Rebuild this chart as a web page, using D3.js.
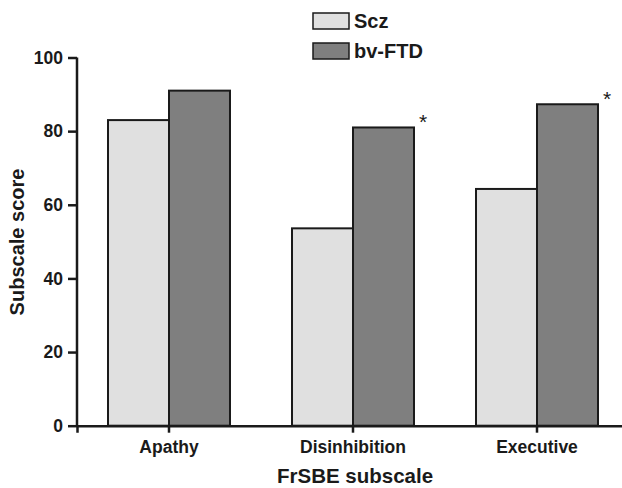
<!DOCTYPE html>
<html>
<head>
<meta charset="utf-8">
<script src="https://cdn.jsdelivr.net/npm/d3@7"></script>
<style>
  body { margin: 0; background: #fff; }
  text { font-family: "Liberation Sans", Arial, sans-serif; font-weight: bold; fill: #1a1a1a; }
</style>
</head>
<body>
<script>
// data
var subscales = ["Apathy", "Disinhibition", "Executive"];
var groups = ["Scz", "bv-FTD"];
var sczScores = [83.0, 53.6, 64.3];
var ftdScores = [91.0, 81.0, 87.3];
var significant = [false, true, true];
var yTicks = [0, 20, 40, 60, 80, 100];

var width = 622,
    height = 488;

var svg = d3.select("body").append("svg")
    .attr("width", width)
    .attr("height", height);

// scales
var x = d3.scaleBand()
    .domain(subscales)
    .range([77, 629])
    .paddingInner(0.337)
    .paddingOuter(0.1685);

var xGroup = d3.scaleBand()
    .domain(groups)
    .range([0, x.bandwidth()]);

var y = d3.scaleLinear()
    .domain([0, 100])
    .range([425.7, 57.5]);

var fill = d3.scaleOrdinal()
    .domain(groups)
    .range(["#e0e0e0", "#7f7f7f"]);

var rows = subscales.map(function(s, i) {
    return {name: s, values: [
        {group: "Scz", value: sczScores[i]},
        {group: "bv-FTD", value: ftdScores[i]}
    ], sig: significant[i]};
});

// bars
var cat = svg.selectAll("g.cat")
  .data(rows)
  .enter().append("g")
    .attr("class", "cat")
    .attr("transform", function(d) { return "translate(" + x(d.name) + ",0)"; });

cat.selectAll("rect")
  .data(function(d) { return d.values; })
  .enter().append("rect")
    .attr("x", function(d) { return xGroup(d.group); })
    .attr("y", function(d) { return y(d.value); })
    .attr("width", xGroup.bandwidth())
    .attr("height", function(d) { return y(0) - y(d.value); })
    .attr("fill", function(d) { return fill(d.group); })
    .attr("stroke", "#1a1a1a")
    .attr("stroke-width", 2);

// asterisks over significant differences
cat.filter(function(d) { return d.sig; })
  .append("text")
    .attr("x", xGroup("bv-FTD") + xGroup.bandwidth() + 9)
    .attr("y", function(d) { return y(d.values[1].value) + 2; })
    .attr("text-anchor", "middle")
    .attr("font-size", 21)
    .style("font-weight", "normal")
    .text("*");

function styleTicks(sel) {
    sel.selectAll(".tick line").attr("stroke", "#1a1a1a").attr("stroke-width", 2.5);
    sel.selectAll(".tick text").attr("font-size", 17.5).attr("fill", "#1a1a1a")
        .style("font-family", "'Liberation Sans', Arial, sans-serif").style("font-weight", "bold");
}

// y axis
var yAxis = svg.append("g")
    .attr("transform", "translate(77,0)")
    .call(d3.axisLeft(y).tickValues(yTicks).tickSize(9).tickPadding(5));
yAxis.select(".domain").attr("stroke", "#1a1a1a").attr("stroke-width", 2.5)
    .attr("d", "M0," + y(100) + "V" + y(0));
styleTicks(yAxis);

// x axis
var xAxis = svg.append("g")
    .attr("transform", "translate(0," + y(0) + ")")
    .call(d3.axisBottom(x).tickSizeOuter(0).tickSize(7).tickPadding(8));
xAxis.select(".domain").attr("stroke", "#1a1a1a").attr("stroke-width", 2.5);
styleTicks(xAxis);

// axis titles
svg.append("text")
    .attr("x", 355)
    .attr("y", 483)
    .attr("text-anchor", "middle")
    .attr("font-size", 20.5)
    .text("FrSBE subscale");

svg.append("text")
    .attr("transform", "translate(24,242) rotate(-90)")
    .attr("text-anchor", "middle")
    .attr("font-size", 20)
    .text("Subscale score");

// legend
var legend = svg.selectAll("g.legend")
  .data(groups)
  .enter().append("g")
    .attr("class", "legend")
    .attr("transform", function(d, i) { return "translate(313," + (13 + i * 30) + ")"; });

legend.append("rect")
    .attr("width", 36)
    .attr("height", 16)
    .attr("fill", function(d) { return fill(d); })
    .attr("stroke", "#1a1a1a")
    .attr("stroke-width", 1.5);

legend.append("text")
    .attr("x", 41)
    .attr("y", 15)
    .attr("font-size", 20)
    .text(function(d) { return d; });
</script>
</body>
</html>
